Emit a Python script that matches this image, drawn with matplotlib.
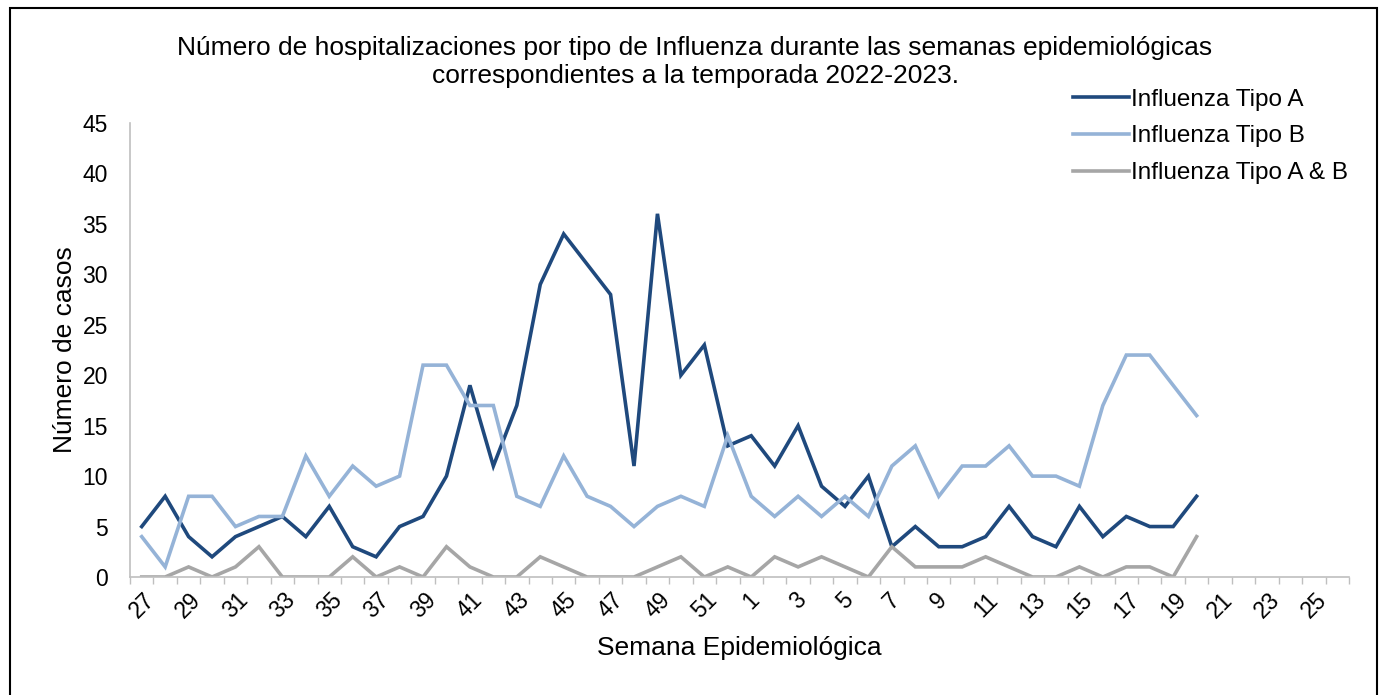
import matplotlib
matplotlib.use("Agg")
import matplotlib.pyplot as plt
from matplotlib.patches import Rectangle

plt.rcParams['font.family'] = ['Liberation Sans', 'DejaVu Sans']

weeks = [str(w) for w in list(range(27, 53)) + list(range(1, 27))]

tipo_a = [5, 8, 4, 2, 4, 5, 6, 4, 7, 3, 2, 5, 6, 10, 19, 11, 17, 29, 34, 31, 28, 11, 36, 20, 23, 13,
          14, 11, 15, 9, 7, 10, 3, 5, 3, 3, 4, 7, 4, 3, 7, 4, 6, 5, 5, 8]
tipo_b = [4, 1, 8, 8, 5, 6, 6, 12, 8, 11, 9, 10, 21, 21, 17, 17, 8, 7, 12, 8, 7, 5, 7, 8, 7, 14,
          8, 6, 8, 6, 8, 6, 11, 13, 8, 11, 11, 13, 10, 10, 9, 17, 22, 22, 19, 16]
tipo_ab = [0, 0, 1, 0, 1, 3, 0, 0, 0, 2, 0, 1, 0, 3, 1, 0, 0, 2, 1, 0, 0, 0, 1, 2, 0, 1,
           0, 2, 1, 2, 1, 0, 3, 1, 1, 1, 2, 1, 0, 0, 1, 0, 1, 1, 0, 4]

labels = ['Influenza Tipo A', 'Influenza Tipo B', 'Influenza Tipo A & B']
colors = ['#1F497D', '#95B3D7', '#A6A6A6']

W, H = 1380, 695
fig = plt.figure(figsize=(W / 100, H / 100), dpi=100)
ax = fig.add_axes([130 / W, 1 - 577 / H, (1349 - 130) / W, (577 - 123) / H])

x = list(range(len(weeks)))
n = len(tipo_a)
for series, lab, col in zip([tipo_a, tipo_b, tipo_ab], labels, colors):
    ax.plot(x[:n], series, color=col, lw=2.6, label=lab, solid_joinstyle='miter')

ax.set_xlim(-0.5, len(weeks) - 0.5)
ax.set_ylim(0, 45)
ax.set_yticks(range(0, 46, 5))
ax.tick_params(axis='y', length=0, labelsize=16.5, pad=16)

ax.set_xticks(x[::2])
ax.set_xticklabels(weeks[::2], rotation=45, ha='center', va='top', fontsize=16.5)
ax.set_xticks([i - 0.5 for i in range(len(weeks) + 1)], minor=True)
ax.tick_params(axis='x', which='major', length=0, pad=8)
ax.tick_params(axis='x', which='minor', length=5, color='#BFBFBF', width=1, direction='out')

for s in ['top', 'right']:
    ax.spines[s].set_visible(False)
for s in ['left', 'bottom']:
    ax.spines[s].set_color('#BFBFBF')
    ax.spines[s].set_linewidth(1.2)

ax.set_xlabel('Semana Epidemiológica', fontsize=19, labelpad=10)
ax.set_ylabel('Número de casos', fontsize=19, labelpad=4)

fig.text(695 / W, 1 - 62 / H,
         'Número de hospitalizaciones por tipo de Influenza durante las semanas epidemiológicas\n'
         'correspondientes a la temporada 2022-2023.',
         ha='center', va='center', fontsize=19, linespacing=1.2)

fig.legend(loc='upper left', bbox_to_anchor=(1068 / W, 1 - 84 / H), frameon=False,
           fontsize=17.5, handlelength=2.3, handletextpad=0.1, labelspacing=0.6,
           borderaxespad=0, borderpad=0.2)

fig.patches.append(Rectangle((10 / W, -0.01), (1377 - 10) / W, 1.01 - 8 / H,
                             transform=fig.transFigure, fill=False, edgecolor='black', lw=1.5))

fig.savefig('out.png', dpi=100)
